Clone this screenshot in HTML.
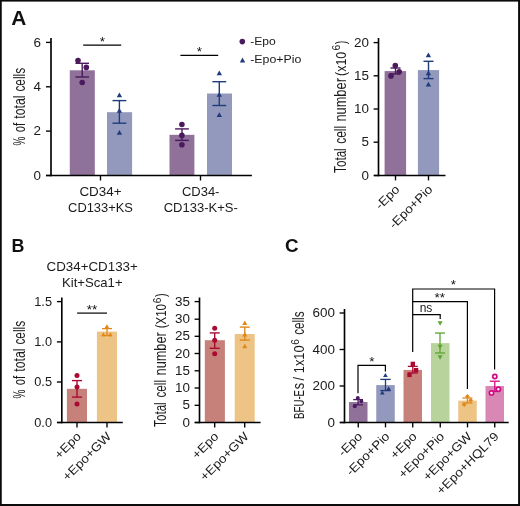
<!DOCTYPE html>
<html lang="en">
<head>
<meta charset="utf-8">
<title>Figure</title>
<style>
html,body{margin:0;padding:0;background:#fff;}
body{width:520px;height:506px;overflow:hidden;position:relative;}
svg{display:block;position:absolute;left:0;top:0;}
svg text{font-family:"Liberation Sans", sans-serif;}
</style>
</head>
<body>
<svg width="520" height="506" viewBox="0 0 520 506">
<rect x="0" y="0" width="520" height="506" fill="#fff"/>
<text transform="translate(11.15 25.05) scale(1.0660 1)" font-size="19.6" text-anchor="start" font-weight="bold" fill="#111">A</text>
<text transform="translate(11.6 251.9) scale(0.9300 1)" font-size="19.2" text-anchor="start" font-weight="bold" fill="#111">B</text>
<text transform="translate(285 252.2) scale(0.9800 1)" font-size="19.2" text-anchor="start" font-weight="bold" fill="#111">C</text>
<rect x="69.8" y="70.3" width="25.0" height="105.2" fill="#8f7199"/>
<rect x="107" y="112.2" width="25.1" height="63.3" fill="#9299bc"/>
<rect x="169.5" y="134.8" width="24.9" height="40.7" fill="#8f7199"/>
<rect x="207" y="93.5" width="25" height="82.0" fill="#9299bc"/>
<line x1="51" y1="38" x2="51" y2="176.25" stroke="#000" stroke-width="1.65" stroke-linecap="butt"/>
<line x1="46.0" y1="175.5" x2="251.9" y2="175.5" stroke="#000" stroke-width="1.5" stroke-linecap="butt"/>
<line x1="46.0" y1="42.4" x2="51" y2="42.4" stroke="#000" stroke-width="1.35" stroke-linecap="butt"/>
<line x1="46.0" y1="86.8" x2="51" y2="86.8" stroke="#000" stroke-width="1.35" stroke-linecap="butt"/>
<line x1="46.0" y1="131.1" x2="51" y2="131.1" stroke="#000" stroke-width="1.35" stroke-linecap="butt"/>
<line x1="46.0" y1="175.5" x2="51" y2="175.5" stroke="#000" stroke-width="1.35" stroke-linecap="butt"/>
<line x1="100.5" y1="175.5" x2="100.5" y2="180.5" stroke="#000" stroke-width="1.35" stroke-linecap="butt"/>
<line x1="200.5" y1="175.5" x2="200.5" y2="180.5" stroke="#000" stroke-width="1.35" stroke-linecap="butt"/>
<text transform="translate(41 46.55) scale(1.0930 1)" font-size="12.3" text-anchor="end" fill="#1a1a1a">6</text>
<text transform="translate(41 90.95) scale(1.0930 1)" font-size="12.3" text-anchor="end" fill="#1a1a1a">4</text>
<text transform="translate(41 135.25) scale(1.0930 1)" font-size="12.3" text-anchor="end" fill="#1a1a1a">2</text>
<text transform="translate(41 179.65) scale(1.0930 1)" font-size="12.3" text-anchor="end" fill="#1a1a1a">0</text>
<text transform="translate(24.9 0) rotate(-90)" font-size="16" fill="#1a1a1a"><tspan x="-145.50" y="0.00" textLength="8.90" lengthAdjust="spacingAndGlyphs">%</tspan> <tspan x="-132.20" y="0.00" textLength="9.38" lengthAdjust="spacingAndGlyphs">of</tspan> <tspan x="-118.80" y="0.00" textLength="23.40" lengthAdjust="spacingAndGlyphs">total</tspan> <tspan x="-91.60" y="0.00" textLength="23.79" lengthAdjust="spacingAndGlyphs">cells</tspan></text>
<line x1="82.2" y1="63.3" x2="82.2" y2="77" stroke="#4a1a5c" stroke-width="1.4" stroke-linecap="butt"/>
<line x1="75.4" y1="63.3" x2="89.0" y2="63.3" stroke="#4a1a5c" stroke-width="1.4" stroke-linecap="butt"/>
<line x1="75.4" y1="77" x2="89.0" y2="77" stroke="#4a1a5c" stroke-width="1.4" stroke-linecap="butt"/>
<circle cx="78" cy="60.6" r="2.8" fill="#4a1a5c"/>
<circle cx="86.3" cy="67.4" r="2.8" fill="#4a1a5c"/>
<circle cx="82.2" cy="82.5" r="2.8" fill="#4a1a5c"/>
<line x1="119.4" y1="100.6" x2="119.4" y2="123.2" stroke="#1f3b7c" stroke-width="1.4" stroke-linecap="butt"/>
<line x1="112.5" y1="100.6" x2="126.30000000000001" y2="100.6" stroke="#1f3b7c" stroke-width="1.4" stroke-linecap="butt"/>
<line x1="112.5" y1="123.2" x2="126.30000000000001" y2="123.2" stroke="#1f3b7c" stroke-width="1.4" stroke-linecap="butt"/>
<polygon points="116.7,97.203 122.10000000000001,97.203 119.4,92.39699999999999" fill="#1f3b7c"/>
<polygon points="116.7,112.703 122.10000000000001,112.703 119.4,107.89699999999999" fill="#1f3b7c"/>
<polygon points="116.7,134.803 122.10000000000001,134.803 119.4,129.997" fill="#1f3b7c"/>
<line x1="182" y1="128.9" x2="182" y2="140.4" stroke="#4a1a5c" stroke-width="1.4" stroke-linecap="butt"/>
<line x1="175.1" y1="128.9" x2="188.9" y2="128.9" stroke="#4a1a5c" stroke-width="1.4" stroke-linecap="butt"/>
<line x1="175.1" y1="140.4" x2="188.9" y2="140.4" stroke="#4a1a5c" stroke-width="1.4" stroke-linecap="butt"/>
<circle cx="181.9" cy="124.5" r="2.8" fill="#4a1a5c"/>
<circle cx="181.9" cy="135.4" r="2.8" fill="#4a1a5c"/>
<circle cx="181.9" cy="144.8" r="2.8" fill="#4a1a5c"/>
<line x1="219.3" y1="81.7" x2="219.3" y2="105.5" stroke="#1f3b7c" stroke-width="1.4" stroke-linecap="butt"/>
<line x1="212.4" y1="81.7" x2="226.20000000000002" y2="81.7" stroke="#1f3b7c" stroke-width="1.4" stroke-linecap="butt"/>
<line x1="212.4" y1="105.5" x2="226.20000000000002" y2="105.5" stroke="#1f3b7c" stroke-width="1.4" stroke-linecap="butt"/>
<polygon points="216.60000000000002,75.30300000000001 222.0,75.30300000000001 219.3,70.497" fill="#1f3b7c"/>
<polygon points="216.60000000000002,96.703 222.0,96.703 219.3,91.89699999999999" fill="#1f3b7c"/>
<polygon points="216.60000000000002,117.003 222.0,117.003 219.3,112.19699999999999" fill="#1f3b7c"/>
<line x1="83.2" y1="45.1" x2="121.2" y2="45.1" stroke="#000" stroke-width="1.2" stroke-linecap="butt"/>
<line x1="180.4" y1="55.3" x2="218.2" y2="55.3" stroke="#000" stroke-width="1.2" stroke-linecap="butt"/>
<text x="102.4" y="45.78" font-size="13.5" text-anchor="middle" fill="#111">*</text>
<text x="199.3" y="55.78" font-size="13.5" text-anchor="middle" fill="#111">*</text>
<text transform="translate(100.5 196) scale(1.0930 1)" font-size="12.3" text-anchor="middle" fill="#1a1a1a">CD34+</text>
<text transform="translate(100.5 212) scale(1.0490 1)" font-size="12.3" text-anchor="middle" fill="#1a1a1a">CD133+KS</text>
<text transform="translate(200.7 196) scale(1.0540 1)" font-size="12.3" text-anchor="middle" fill="#1a1a1a">CD34-</text>
<text transform="translate(200.7 212) scale(1.0580 1)" font-size="12.3" text-anchor="middle" fill="#1a1a1a">CD133-K+S-</text>
<circle cx="242.3" cy="41.6" r="2.8" fill="#4a1a5c"/>
<polygon points="239.8,62.403 245.2,62.403 242.5,57.597" fill="#1f3b7c"/>
<text transform="translate(250.2 45.1) scale(1.1433 1)" font-size="10.6" text-anchor="start" fill="#1a1a1a">-Epo</text>
<text transform="translate(250.2 63.2) scale(1.1685 1)" font-size="10.6" text-anchor="start" fill="#1a1a1a">-Epo+Pio</text>
<rect x="384.6" y="71.1" width="21.5" height="104.4" fill="#8f7199"/>
<rect x="417.9" y="70.1" width="21.2" height="105.4" fill="#9299bc"/>
<line x1="378.5" y1="38" x2="378.5" y2="176.25" stroke="#000" stroke-width="1.65" stroke-linecap="butt"/>
<line x1="374" y1="175.5" x2="445.5" y2="175.5" stroke="#000" stroke-width="1.5" stroke-linecap="butt"/>
<line x1="373.6" y1="42.6" x2="378.5" y2="42.6" stroke="#000" stroke-width="1.35" stroke-linecap="butt"/>
<line x1="373.6" y1="75.8" x2="378.5" y2="75.8" stroke="#000" stroke-width="1.35" stroke-linecap="butt"/>
<line x1="373.6" y1="109" x2="378.5" y2="109" stroke="#000" stroke-width="1.35" stroke-linecap="butt"/>
<line x1="373.6" y1="142.2" x2="378.5" y2="142.2" stroke="#000" stroke-width="1.35" stroke-linecap="butt"/>
<line x1="373.6" y1="175.5" x2="378.5" y2="175.5" stroke="#000" stroke-width="1.35" stroke-linecap="butt"/>
<line x1="395.5" y1="175.5" x2="395.5" y2="180.4" stroke="#000" stroke-width="1.35" stroke-linecap="butt"/>
<line x1="428.5" y1="175.5" x2="428.5" y2="180.4" stroke="#000" stroke-width="1.35" stroke-linecap="butt"/>
<text transform="translate(369 46.65) scale(1.0930 1)" font-size="12.3" text-anchor="end" fill="#1a1a1a">20</text>
<text transform="translate(369 79.65) scale(1.0930 1)" font-size="12.3" text-anchor="end" fill="#1a1a1a">15</text>
<text transform="translate(369 113.15) scale(1.0930 1)" font-size="12.3" text-anchor="end" fill="#1a1a1a">10</text>
<text transform="translate(369 146.15) scale(1.0930 1)" font-size="12.3" text-anchor="end" fill="#1a1a1a">5</text>
<text transform="translate(369 179.65) scale(1.0930 1)" font-size="12.3" text-anchor="end" fill="#1a1a1a">0</text>
<text transform="translate(345.6 0) rotate(-90)" font-size="16" fill="#1a1a1a"><tspan x="-172.90" y="0.00" textLength="24.60" lengthAdjust="spacingAndGlyphs">Total</tspan> <tspan x="-143.80" y="0.00" textLength="17.99" lengthAdjust="spacingAndGlyphs">cell</tspan> <tspan x="-121.60" y="0.00" textLength="43.50" lengthAdjust="spacingAndGlyphs">number</tspan> <tspan x="-75.90" y="0.00" font-size="14.9" textLength="24.10" lengthAdjust="spacingAndGlyphs">(x10</tspan><tspan x="-50.50" y="-5.60" font-size="11.5" textLength="5.70" lengthAdjust="spacingAndGlyphs">6</tspan><tspan x="-44.20" y="0.00" font-size="14.9" textLength="3.50" lengthAdjust="spacingAndGlyphs">)</tspan></text>
<line x1="395.5" y1="68" x2="395.5" y2="74" stroke="#4a1a5c" stroke-width="1.4" stroke-linecap="butt"/>
<line x1="390.5" y1="68" x2="400.5" y2="68" stroke="#4a1a5c" stroke-width="1.4" stroke-linecap="butt"/>
<line x1="390.5" y1="74" x2="400.5" y2="74" stroke="#4a1a5c" stroke-width="1.4" stroke-linecap="butt"/>
<circle cx="395.3" cy="65.6" r="2.8" fill="#4a1a5c"/>
<circle cx="399.2" cy="71.7" r="2.8" fill="#4a1a5c"/>
<circle cx="391" cy="75.9" r="2.8" fill="#4a1a5c"/>
<line x1="428.5" y1="61.3" x2="428.5" y2="78.6" stroke="#1f3b7c" stroke-width="1.4" stroke-linecap="butt"/>
<line x1="423.5" y1="61.3" x2="433.5" y2="61.3" stroke="#1f3b7c" stroke-width="1.4" stroke-linecap="butt"/>
<line x1="423.5" y1="78.6" x2="433.5" y2="78.6" stroke="#1f3b7c" stroke-width="1.4" stroke-linecap="butt"/>
<polygon points="425.7,57.202999999999996 431.09999999999997,57.202999999999996 428.4,52.397" fill="#1f3b7c"/>
<polygon points="425.7,75.203 431.09999999999997,75.203 428.4,70.39699999999999" fill="#1f3b7c"/>
<polygon points="425.7,86.503 431.09999999999997,86.503 428.4,81.69699999999999" fill="#1f3b7c"/>
<text transform="translate(400.4 190.2) rotate(-45) scale(1.0930 1)" font-size="12.3" text-anchor="end" fill="#1a1a1a">-Epo</text>
<text transform="translate(433.4 190.2) rotate(-45) scale(1.0930 1)" font-size="12.3" text-anchor="end" fill="#1a1a1a">-Epo+Pio</text>
<rect x="66.9" y="388.8" width="20.1" height="33.7" fill="#c6827a"/>
<rect x="96.9" y="331.6" width="20.1" height="90.9" fill="#eec486"/>
<line x1="61.8" y1="297.5" x2="61.8" y2="423.25" stroke="#000" stroke-width="1.65" stroke-linecap="butt"/>
<line x1="57.2" y1="422.5" x2="122.8" y2="422.5" stroke="#000" stroke-width="1.5" stroke-linecap="butt"/>
<line x1="56.9" y1="301.6" x2="61.8" y2="301.6" stroke="#000" stroke-width="1.35" stroke-linecap="butt"/>
<line x1="56.9" y1="341.9" x2="61.8" y2="341.9" stroke="#000" stroke-width="1.35" stroke-linecap="butt"/>
<line x1="56.9" y1="382" x2="61.8" y2="382" stroke="#000" stroke-width="1.35" stroke-linecap="butt"/>
<line x1="56.9" y1="422.5" x2="61.8" y2="422.5" stroke="#000" stroke-width="1.35" stroke-linecap="butt"/>
<line x1="77" y1="422.5" x2="77" y2="427.4" stroke="#000" stroke-width="1.35" stroke-linecap="butt"/>
<line x1="107" y1="422.5" x2="107" y2="427.4" stroke="#000" stroke-width="1.35" stroke-linecap="butt"/>
<text transform="translate(52 305.75) scale(1.0400 1)" font-size="12.3" text-anchor="end" fill="#1a1a1a">1.5</text>
<text transform="translate(52 346.04999999999995) scale(1.0400 1)" font-size="12.3" text-anchor="end" fill="#1a1a1a">1.0</text>
<text transform="translate(52 386.15) scale(1.0400 1)" font-size="12.3" text-anchor="end" fill="#1a1a1a">0.5</text>
<text transform="translate(52 426.65) scale(1.0400 1)" font-size="12.3" text-anchor="end" fill="#1a1a1a">0.0</text>
<text transform="translate(24.9 0) rotate(-90)" font-size="16" fill="#1a1a1a"><tspan x="-398.50" y="0.00" textLength="8.90" lengthAdjust="spacingAndGlyphs">%</tspan> <tspan x="-385.20" y="0.00" textLength="9.38" lengthAdjust="spacingAndGlyphs">of</tspan> <tspan x="-371.80" y="0.00" textLength="23.40" lengthAdjust="spacingAndGlyphs">total</tspan> <tspan x="-344.60" y="0.00" textLength="23.79" lengthAdjust="spacingAndGlyphs">cells</tspan></text>
<line x1="77" y1="380.6" x2="77" y2="397.1" stroke="#aa0a32" stroke-width="1.4" stroke-linecap="butt"/>
<line x1="72" y1="380.6" x2="82" y2="380.6" stroke="#aa0a32" stroke-width="1.4" stroke-linecap="butt"/>
<line x1="72" y1="397.1" x2="82" y2="397.1" stroke="#aa0a32" stroke-width="1.4" stroke-linecap="butt"/>
<circle cx="77" cy="375.6" r="2.5" fill="#aa0a32"/>
<circle cx="77" cy="387.1" r="2.5" fill="#aa0a32"/>
<circle cx="77" cy="404" r="2.5" fill="#aa0a32"/>
<line x1="107" y1="328.6" x2="107" y2="335.6" stroke="#e0891a" stroke-width="1.3" stroke-linecap="butt"/>
<line x1="102" y1="328.6" x2="112" y2="328.6" stroke="#e0891a" stroke-width="1.3" stroke-linecap="butt"/>
<line x1="102" y1="335.6" x2="112" y2="335.6" stroke="#e0891a" stroke-width="1.3" stroke-linecap="butt"/>
<polygon points="104.60000000000001,328.34700000000004 109.2,328.34700000000004 106.9,324.253" fill="#e0891a"/>
<polygon points="101.10000000000001,336.247 105.7,336.247 103.4,332.15299999999996" fill="#e0891a"/>
<polygon points="108.0,336.247 112.6,336.247 110.3,332.15299999999996" fill="#e0891a"/>
<line x1="77.1" y1="313.1" x2="107" y2="313.1" stroke="#000" stroke-width="1.2" stroke-linecap="butt"/>
<text x="91.9" y="313.98" font-size="13.5" text-anchor="middle" fill="#111">**</text>
<text transform="translate(92.2 271.3) scale(1.0860 1)" font-size="12.3" text-anchor="middle" fill="#1a1a1a">CD34+CD133+</text>
<text transform="translate(92.3 287) scale(1.0670 1)" font-size="12.3" text-anchor="middle" fill="#1a1a1a">Kit+Sca1+</text>
<text transform="translate(81.9 437.2) rotate(-45) scale(1.0930 1)" font-size="12.3" text-anchor="end" fill="#1a1a1a">+Epo</text>
<text transform="translate(111.9 437.2) rotate(-45) scale(1.0930 1)" font-size="12.3" text-anchor="end" fill="#1a1a1a">+Epo+GW</text>
<rect x="204.8" y="340.2" width="20.1" height="82.3" fill="#c6827a"/>
<rect x="234.7" y="334" width="20.0" height="88.5" fill="#eec486"/>
<line x1="199.5" y1="297.5" x2="199.5" y2="423.25" stroke="#000" stroke-width="1.65" stroke-linecap="butt"/>
<line x1="194.8" y1="422.5" x2="260.6" y2="422.5" stroke="#000" stroke-width="1.5" stroke-linecap="butt"/>
<line x1="194.6" y1="301.6" x2="199.5" y2="301.6" stroke="#000" stroke-width="1.35" stroke-linecap="butt"/>
<line x1="194.6" y1="319.2" x2="199.5" y2="319.2" stroke="#000" stroke-width="1.35" stroke-linecap="butt"/>
<line x1="194.6" y1="336.3" x2="199.5" y2="336.3" stroke="#000" stroke-width="1.35" stroke-linecap="butt"/>
<line x1="194.6" y1="353.5" x2="199.5" y2="353.5" stroke="#000" stroke-width="1.35" stroke-linecap="butt"/>
<line x1="194.6" y1="370.8" x2="199.5" y2="370.8" stroke="#000" stroke-width="1.35" stroke-linecap="butt"/>
<line x1="194.6" y1="388" x2="199.5" y2="388" stroke="#000" stroke-width="1.35" stroke-linecap="butt"/>
<line x1="194.6" y1="405.3" x2="199.5" y2="405.3" stroke="#000" stroke-width="1.35" stroke-linecap="butt"/>
<line x1="194.6" y1="422.5" x2="199.5" y2="422.5" stroke="#000" stroke-width="1.35" stroke-linecap="butt"/>
<line x1="214.7" y1="422.5" x2="214.7" y2="427.4" stroke="#000" stroke-width="1.35" stroke-linecap="butt"/>
<line x1="244.7" y1="422.5" x2="244.7" y2="427.4" stroke="#000" stroke-width="1.35" stroke-linecap="butt"/>
<text transform="translate(190 305.75) scale(1.0930 1)" font-size="12.3" text-anchor="end" fill="#1a1a1a">35</text>
<text transform="translate(190 323.34999999999997) scale(1.0930 1)" font-size="12.3" text-anchor="end" fill="#1a1a1a">30</text>
<text transform="translate(190 340.45) scale(1.0930 1)" font-size="12.3" text-anchor="end" fill="#1a1a1a">25</text>
<text transform="translate(190 357.65) scale(1.0930 1)" font-size="12.3" text-anchor="end" fill="#1a1a1a">20</text>
<text transform="translate(190 374.95) scale(1.0930 1)" font-size="12.3" text-anchor="end" fill="#1a1a1a">15</text>
<text transform="translate(190 392.15) scale(1.0930 1)" font-size="12.3" text-anchor="end" fill="#1a1a1a">10</text>
<text transform="translate(190 409.45) scale(1.0930 1)" font-size="12.3" text-anchor="end" fill="#1a1a1a">5</text>
<text transform="translate(190 426.65) scale(1.0930 1)" font-size="12.3" text-anchor="end" fill="#1a1a1a">0</text>
<text transform="translate(166.1 0) rotate(-90)" font-size="16" fill="#1a1a1a"><tspan x="-426.90" y="0.00" textLength="24.60" lengthAdjust="spacingAndGlyphs">Total</tspan> <tspan x="-397.60" y="0.00" textLength="17.59" lengthAdjust="spacingAndGlyphs">cell</tspan> <tspan x="-375.40" y="0.00" textLength="43.10" lengthAdjust="spacingAndGlyphs">number</tspan> <tspan x="-328.30" y="0.00" font-size="14.9" textLength="24.30" lengthAdjust="spacingAndGlyphs">(X10</tspan><tspan x="-303.30" y="-5.60" font-size="11.5" textLength="5.60" lengthAdjust="spacingAndGlyphs">6</tspan><tspan x="-297.00" y="0.00" font-size="14.9" textLength="3.60" lengthAdjust="spacingAndGlyphs">)</tspan></text>
<line x1="214.7" y1="332.9" x2="214.7" y2="348.3" stroke="#aa0a32" stroke-width="1.4" stroke-linecap="butt"/>
<line x1="209.7" y1="332.9" x2="219.7" y2="332.9" stroke="#aa0a32" stroke-width="1.4" stroke-linecap="butt"/>
<line x1="209.7" y1="348.3" x2="219.7" y2="348.3" stroke="#aa0a32" stroke-width="1.4" stroke-linecap="butt"/>
<circle cx="214.7" cy="328.2" r="2.5" fill="#aa0a32"/>
<circle cx="214.7" cy="340.2" r="2.5" fill="#aa0a32"/>
<circle cx="214.7" cy="353.7" r="2.5" fill="#aa0a32"/>
<line x1="244.8" y1="327.1" x2="244.8" y2="340.1" stroke="#e0891a" stroke-width="1.4" stroke-linecap="butt"/>
<line x1="239.8" y1="327.1" x2="249.8" y2="327.1" stroke="#e0891a" stroke-width="1.4" stroke-linecap="butt"/>
<line x1="239.8" y1="340.1" x2="249.8" y2="340.1" stroke="#e0891a" stroke-width="1.4" stroke-linecap="butt"/>
<polygon points="242.20000000000002,325.014 247.4,325.014 244.8,320.38599999999997" fill="#e0891a"/>
<polygon points="242.20000000000002,336.514 247.4,336.514 244.8,331.88599999999997" fill="#e0891a"/>
<polygon points="242.20000000000002,348.314 247.4,348.314 244.8,343.686" fill="#e0891a"/>
<text transform="translate(219.4 437.2) rotate(-45) scale(1.0930 1)" font-size="12.3" text-anchor="end" fill="#1a1a1a">+Epo</text>
<text transform="translate(249.4 437.2) rotate(-45) scale(1.0930 1)" font-size="12.3" text-anchor="end" fill="#1a1a1a">+Epo+GW</text>
<rect x="349.0" y="402.06" width="18.5" height="20.44" fill="#8f7199"/>
<rect x="376.25" y="385.0875" width="18.5" height="37.41" fill="#9299bc"/>
<rect x="403.5" y="369.94" width="18.5" height="52.56" fill="#c6827a"/>
<rect x="431.0" y="343.1125" width="18.5" height="79.39" fill="#b9d39c"/>
<rect x="458.25" y="400.6" width="18.5" height="21.9" fill="#eec486"/>
<rect x="485.5" y="386.0" width="18.5" height="36.5" fill="#d988b5"/>
<line x1="344.5" y1="309" x2="344.5" y2="423.25" stroke="#000" stroke-width="1.65" stroke-linecap="butt"/>
<line x1="340" y1="422.5" x2="508.7" y2="422.5" stroke="#000" stroke-width="1.5" stroke-linecap="butt"/>
<line x1="339.6" y1="313" x2="344.5" y2="313" stroke="#000" stroke-width="1.35" stroke-linecap="butt"/>
<line x1="339.6" y1="349.5" x2="344.5" y2="349.5" stroke="#000" stroke-width="1.35" stroke-linecap="butt"/>
<line x1="339.6" y1="386" x2="344.5" y2="386" stroke="#000" stroke-width="1.35" stroke-linecap="butt"/>
<line x1="339.6" y1="422.5" x2="344.5" y2="422.5" stroke="#000" stroke-width="1.35" stroke-linecap="butt"/>
<line x1="358.25" y1="422.5" x2="358.25" y2="427.4" stroke="#000" stroke-width="1.35" stroke-linecap="butt"/>
<line x1="385.5" y1="422.5" x2="385.5" y2="427.4" stroke="#000" stroke-width="1.35" stroke-linecap="butt"/>
<line x1="412.75" y1="422.5" x2="412.75" y2="427.4" stroke="#000" stroke-width="1.35" stroke-linecap="butt"/>
<line x1="440.25" y1="422.5" x2="440.25" y2="427.4" stroke="#000" stroke-width="1.35" stroke-linecap="butt"/>
<line x1="467.5" y1="422.5" x2="467.5" y2="427.4" stroke="#000" stroke-width="1.35" stroke-linecap="butt"/>
<line x1="494.75" y1="422.5" x2="494.75" y2="427.4" stroke="#000" stroke-width="1.35" stroke-linecap="butt"/>
<text transform="translate(335 317.15) scale(1.0930 1)" font-size="12.3" text-anchor="end" fill="#1a1a1a">600</text>
<text transform="translate(335 353.65) scale(1.0930 1)" font-size="12.3" text-anchor="end" fill="#1a1a1a">400</text>
<text transform="translate(335 390.15) scale(1.0930 1)" font-size="12.3" text-anchor="end" fill="#1a1a1a">200</text>
<text transform="translate(335 426.65) scale(1.0930 1)" font-size="12.3" text-anchor="end" fill="#1a1a1a">0</text>
<text transform="translate(304.4 0) rotate(-90)" font-size="16" fill="#1a1a1a"><tspan x="-419.00" y="0.00" font-size="14.9" textLength="29.10" lengthAdjust="spacingAndGlyphs">BFU-E</tspan><tspan x="-389.20" y="0.00" textLength="6.40" lengthAdjust="spacingAndGlyphs">s</tspan> <tspan x="-380.40" y="0.00" font-size="14.9" textLength="35.00" lengthAdjust="spacingAndGlyphs">/ 1x10</tspan><tspan x="-344.80" y="-5.60" font-size="11.5" textLength="5.60" lengthAdjust="spacingAndGlyphs">6</tspan> <tspan x="-334.70" y="0.00" textLength="23.19" lengthAdjust="spacingAndGlyphs">cells</tspan></text>
<path d="M358 393.3 V365.4 H385.4 V371.6" fill="none" stroke="#000" stroke-width="1.2"/>
<path d="M412.7 352 V289 H494.6 V369.5" fill="none" stroke="#000" stroke-width="1.2"/>
<path d="M412.7 301.7 H467.4 V389" fill="none" stroke="#000" stroke-width="1.2"/>
<path d="M412.7 314.6 H440.2 V319" fill="none" stroke="#000" stroke-width="1.2"/>
<text x="371.8" y="365.88" font-size="13.5" text-anchor="middle" fill="#111">*</text>
<text x="453.45" y="289.38" font-size="13.5" text-anchor="middle" fill="#111">*</text>
<text x="439.7" y="301.78" font-size="13.5" text-anchor="middle" fill="#111">**</text>
<text transform="translate(426 312.0)" font-size="12" text-anchor="middle" fill="#1a1a1a">ns</text>
<line x1="358.1" y1="399.6" x2="358.1" y2="404.8" stroke="#4a1a5c" stroke-width="1.3" stroke-linecap="butt"/>
<line x1="353.20000000000005" y1="399.6" x2="363.0" y2="399.6" stroke="#4a1a5c" stroke-width="1.3" stroke-linecap="butt"/>
<line x1="353.20000000000005" y1="404.8" x2="363.0" y2="404.8" stroke="#4a1a5c" stroke-width="1.3" stroke-linecap="butt"/>
<circle cx="357.8" cy="398" r="2.0" fill="#4a1a5c"/>
<circle cx="361.3" cy="401.2" r="2.0" fill="#4a1a5c"/>
<circle cx="354.8" cy="406.3" r="2.0" fill="#4a1a5c"/>
<line x1="385.5" y1="379.4" x2="385.5" y2="390.6" stroke="#1f3b7c" stroke-width="1.3" stroke-linecap="butt"/>
<line x1="380.3" y1="379.4" x2="390.7" y2="379.4" stroke="#1f3b7c" stroke-width="1.3" stroke-linecap="butt"/>
<line x1="380.3" y1="390.6" x2="390.7" y2="390.6" stroke="#1f3b7c" stroke-width="1.3" stroke-linecap="butt"/>
<polygon points="383.09999999999997,377.047 387.7,377.047 385.4,372.953" fill="#1f3b7c"/>
<polygon points="380.0,394.547 384.6,394.547 382.3,390.453" fill="#1f3b7c"/>
<polygon points="386.3,390.34700000000004 390.90000000000003,390.34700000000004 388.6,386.253" fill="#1f3b7c"/>
<line x1="412.8" y1="366.4" x2="412.8" y2="373" stroke="#aa0a32" stroke-width="1.3" stroke-linecap="butt"/>
<line x1="407.8" y1="366.4" x2="417.8" y2="366.4" stroke="#aa0a32" stroke-width="1.3" stroke-linecap="butt"/>
<line x1="407.8" y1="373" x2="417.8" y2="373" stroke="#aa0a32" stroke-width="1.3" stroke-linecap="butt"/>
<rect x="410.6" y="361.7" width="4.4" height="4.4" fill="#aa0a32"/>
<rect x="413.90000000000003" y="368.0" width="4.4" height="4.4" fill="#aa0a32"/>
<rect x="407.3" y="372.7" width="4.4" height="4.4" fill="#aa0a32"/>
<line x1="440" y1="333" x2="440" y2="353" stroke="#5ba433" stroke-width="1.3" stroke-linecap="butt"/>
<line x1="435" y1="333" x2="445" y2="333" stroke="#5ba433" stroke-width="1.3" stroke-linecap="butt"/>
<line x1="435" y1="353" x2="445" y2="353" stroke="#5ba433" stroke-width="1.3" stroke-linecap="butt"/>
<polygon points="437.6,321.275 442.6,321.275 440.1,325.725" fill="#5ba433"/>
<polygon points="437.6,344.775 442.6,344.775 440.1,349.225" fill="#5ba433"/>
<polygon points="437.6,355.275 442.6,355.275 440.1,359.725" fill="#5ba433"/>
<line x1="467.4" y1="398" x2="467.4" y2="403" stroke="#e0891a" stroke-width="1.3" stroke-linecap="butt"/>
<line x1="462.4" y1="398" x2="472.4" y2="398" stroke="#e0891a" stroke-width="1.3" stroke-linecap="butt"/>
<line x1="462.4" y1="403" x2="472.4" y2="403" stroke="#e0891a" stroke-width="1.3" stroke-linecap="butt"/>
<polygon points="467.4,394.0 469.79999999999995,396.4 467.4,398.79999999999995 465.0,396.4" fill="#e0891a"/>
<polygon points="470.7,397.90000000000003 473.09999999999997,400.3 470.7,402.7 468.3,400.3" fill="#e0891a"/>
<polygon points="464.2,402.3 466.59999999999997,404.7 464.2,407.09999999999997 461.8,404.7" fill="#e0891a"/>
<line x1="494.8" y1="381.2" x2="494.8" y2="391.4" stroke="#d10a84" stroke-width="1.3" stroke-linecap="butt"/>
<line x1="489.8" y1="381.2" x2="499.8" y2="381.2" stroke="#d10a84" stroke-width="1.3" stroke-linecap="butt"/>
<line x1="489.8" y1="391.4" x2="499.8" y2="391.4" stroke="#d10a84" stroke-width="1.3" stroke-linecap="butt"/>
<circle cx="494.8" cy="376.5" r="2.1" fill="#fff" stroke="#d10a84" stroke-width="1.7"/>
<circle cx="498.4" cy="389.3" r="2.1" fill="#fff" stroke="#d10a84" stroke-width="1.7"/>
<circle cx="491.5" cy="392.9" r="2.1" fill="#fff" stroke="#d10a84" stroke-width="1.7"/>
<text transform="translate(363.15 437.2) rotate(-45) scale(1.0930 1)" font-size="12.3" text-anchor="end" fill="#1a1a1a">-Epo</text>
<text transform="translate(390.4 437.2) rotate(-45) scale(1.0930 1)" font-size="12.3" text-anchor="end" fill="#1a1a1a">-Epo+Pio</text>
<text transform="translate(417.65 437.2) rotate(-45) scale(1.0930 1)" font-size="12.3" text-anchor="end" fill="#1a1a1a">+Epo</text>
<text transform="translate(445.15 437.2) rotate(-45) scale(1.0930 1)" font-size="12.3" text-anchor="end" fill="#1a1a1a">+Epo+Pio</text>
<text transform="translate(472.4 437.2) rotate(-45) scale(1.0930 1)" font-size="12.3" text-anchor="end" fill="#1a1a1a">+Epo+GW</text>
<text transform="translate(499.65 437.2) rotate(-45) scale(1.0930 1)" font-size="12.3" text-anchor="end" fill="#1a1a1a">+Epo+HQL79</text>
<rect x="0" y="0" width="520" height="1.6" fill="#0b0b0b"/>
<rect x="0" y="0" width="1.75" height="506" fill="#0b0b0b"/>
<rect x="518.1" y="0" width="1.9" height="506" fill="#0b0b0b"/>
<rect x="0" y="504" width="520" height="2" fill="#0b0b0b"/>
</svg>
</body>
</html>
